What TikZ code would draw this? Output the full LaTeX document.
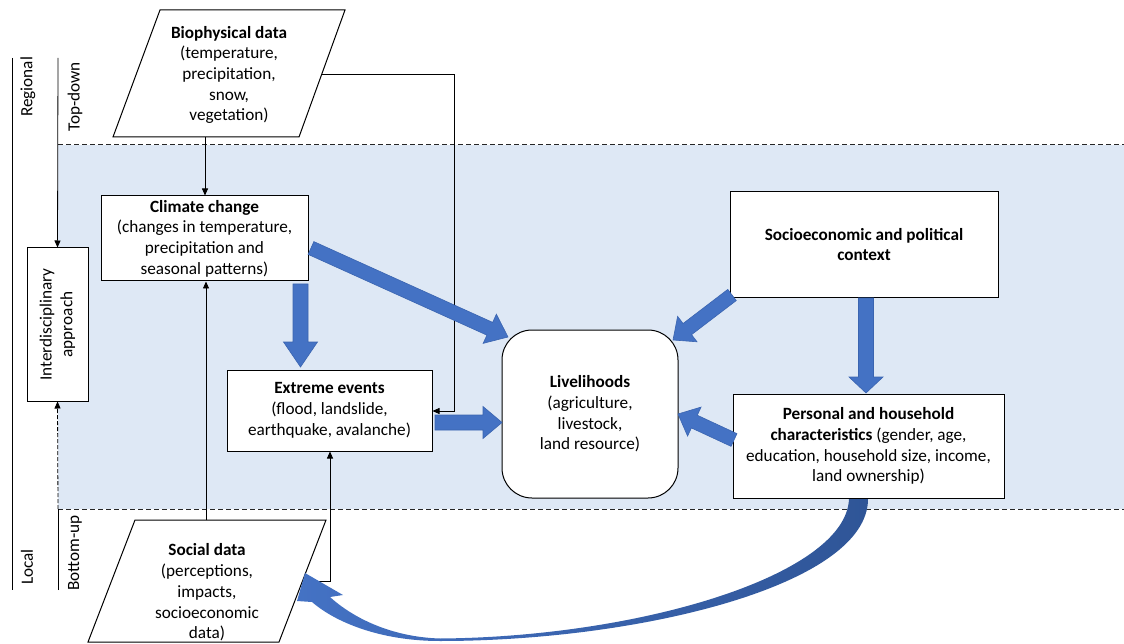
\documentclass[tikz,border=0pt]{standalone}
\usepackage{fontspec}
\setmainfont{Carlito}
\usetikzlibrary{arrows.meta,calc}
\definecolor{band}{HTML}{DEE8F5}
\definecolor{ablue}{HTML}{4472C4}
\definecolor{aline}{HTML}{3A64B0}
\definecolor{adark}{HTML}{2F5597}
\newcommand\blockarr[5]{%
  \coordinate (bab) at ($(#2)!#5!(#1)$);
  \filldraw[barrow] ($(#1)!#3!90:(#2)$) -- ($(bab)!#3!90:(#2)$) -- ($(bab)!#4!90:(#2)$) -- (#2)
    -- ($(bab)!#4!-90:(#2)$) -- ($(bab)!#3!-90:(#2)$) -- ($(#1)!#3!-90:(#2)$) -- cycle;}
\begin{document}
\begin{tikzpicture}[x=1pt,y=-1pt,
  font=\fontsize{17.2}{20.7}\selectfont,
  box/.style={draw, line width=1pt, fill=white, align=center, inner sep=0pt},
  txt/.style={align=center, inner sep=0pt},
  thinarrow/.style={line width=0.8pt, -{Triangle[length=7pt,width=6pt]}},
  barrow/.style={fill=ablue, draw=aline, line width=0.6pt},
  dashline/.style={line width=1pt, draw=black!85, dash pattern=on 5pt off 3pt}]
\useasboundingbox (0,0) rectangle (1124,644);
% band
\fill[band] (58,145) rectangle (1124,509);
\draw[dashline] (58,145) -- (1124,145);
\draw[dashline] (58,509) -- (1124,509);

% left scale
\draw[line width=0.8pt] (12,58) -- (12,590);
\node[txt, rotate=90] (regional) at (28,87) {Regional};
\node[txt, rotate=90] (local) at (27,567) {Local};
\node[txt, rotate=90] (topdown) at (75,97) {Top-down};
\node[txt, rotate=90] (bottomup) at (75,553) {Bottom-up};
\node[box, minimum width=61, minimum height=153] (inter) at (57.5,324.5) {};
\node[txt, rotate=90] at (inter.center) {Interdisciplinary\\approach};
\coordinate (tdtop) at (58,58);
\coordinate (bubot) at (58,590);
\coordinate (bumid) at (58,509);
\draw[thinarrow] (tdtop) -- (inter.north);
\draw[line width=0.8pt] (bubot) -- (bumid);
\draw[thinarrow, dash pattern=on 4pt off 2pt] (bumid) -- (inter.south);

% biophysical parallelogram
\coordinate (b1) at (160,10);
\coordinate (b2) at (345,10);
\coordinate (b3) at (299,137);
\coordinate (b4) at (113,137);
\filldraw[fill=white, line width=1pt] (b1) -- (b2) -- (b3) -- (b4) -- cycle;
\node[txt] (bio) at (229,75) {\textbf{Biophysical data}\\(temperature,\\precipitation,\\snow,\\vegetation)};
\coordinate (bioS) at (205,137);
\coordinate (bioE) at (322,74);

% social parallelogram
\coordinate (s1) at (135,520);
\coordinate (s2) at (326,520);
\coordinate (s3) at (279,642);
\coordinate (s4) at (88,642);
\filldraw[fill=white, line width=1pt] (s1) -- (s2) -- (s3) -- (s4) -- cycle;
\node[txt] (social) at (207,592.5) {\textbf{Social data}\\(perceptions,\\impacts,\\socioeconomic\\data)};
\coordinate (socN) at (206,520);
\coordinate (socE) at (303,581);

% boxes
\node[box, minimum width=207, minimum height=85] (climate) at (204.5,238.5)
  {\textbf{Climate change}\\(changes in temperature,\\precipitation and\\seasonal patterns)};
\node[box, minimum width=205, minimum height=81] (extreme) at (329.5,410.5)
  {\textbf{Extreme events}\\(flood, landslide,\\earthquake, avalanche)};
\node[box, rounded corners=30pt, minimum width=176, minimum height=168] (liv) at (590,414)
  {\textbf{Livelihoods}\\(agriculture,\\livestock,\\land resource)};
\node[box, minimum width=268, minimum height=105] (socio) at (864,244.5)
  {\textbf{Socioeconomic and political}\\\textbf{context}};
\node[box, minimum width=271, minimum height=104] (personal) at (868.5,446)
  {\textbf{Personal and household}\\\textbf{characteristics} (gender, age,\\education, household size, income,\\land ownership)};

% thin connectors
\draw[thinarrow] (bioS) -- (climate.north -| bioS);
\draw[thinarrow] (bioE) -- (454,74) -- (454,411) -- (extreme.east |- 0,411);
\draw[thinarrow] (socN) -- (climate.south -| socN);
\draw[thinarrow] (socE) -- (330,581) -- (extreme.south -| 330,0);

% block arrows
\coordinate (a1s) at (311,248);   \coordinate (a1t) at (508,337);
\coordinate (a2s) at (300.5,284); \coordinate (a2t) at (300.5,367);
\coordinate (a3s) at (435,422.5); \coordinate (a3t) at (502,422.5);
\coordinate (a4s) at (732,295);   \coordinate (a4t) at (673,340);
\coordinate (a5s) at (866,298);   \coordinate (a5t) at (866,393);
\coordinate (a6s) at (734,440);   \coordinate (a6t) at (678,414);
\blockarr{a1s}{a1t}{7pt}{16pt}{20pt}
\blockarr{a2s}{a2t}{7.5pt}{17pt}{25pt}
\blockarr{a3s}{a3t}{7.5pt}{16pt}{19pt}
\blockarr{a4s}{a4t}{7pt}{16pt}{18pt}
\blockarr{a5s}{a5t}{7.5pt}{17pt}{16pt}
\blockarr{a6s}{a6t}{7pt}{16pt}{18pt}

% curved arrow
\shade[left color=ablue, right color=adark]
  (868,499) .. controls (868,585) and (640,641) .. (440,641)
  .. controls (380,641) and (335,622) .. (312,602)
  -- (297,601) -- (305,573) -- (343,595) -- (330,597)
  .. controls (352,617) and (390,637) .. (440,638.5)
  .. controls (640,637) and (846,575) .. (849,499) -- cycle;
\end{tikzpicture}
\end{document}
